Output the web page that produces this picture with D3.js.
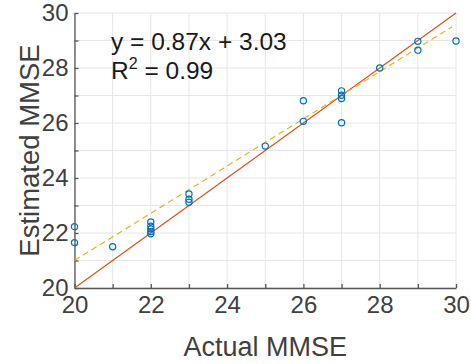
<!DOCTYPE html>
<html>
<head>
<meta charset="utf-8">
<script src="https://cdn.jsdelivr.net/npm/d3@7"></script>
<style>
  body { margin: 0; background: #fff; }
  svg { display: block; font-family: 'Liberation Sans', Arial, sans-serif; }
</style>
</head>
<body>
<div id="chart"></div>
<script>
// scatter data: actual vs estimated MMSE
const actual = [20, 20, 21, 22, 22, 22, 22, 22, 23, 23, 23, 25, 26, 26, 27, 27, 27, 27, 28, 29, 29, 30]
const estimated = [22.23, 21.65, 21.5, 22.4, 22.25, 22.15, 22.05, 21.97, 23.42, 23.23, 23.12, 25.16, 26.81, 26.06, 27.17, 27.01, 26.89, 26.01, 28.0, 28.97, 28.65, 28.98]

// fitted line as drawn, and the identity line
const fitX = [20, 29.9]
const fitY = [21.0, 29.5]
const idX = [20, 30]
const idY = [20, 30]

const ticks = [20, 21, 22, 23, 24, 25, 26, 27, 28, 29, 30]
const tickLabels = [20, 22, 24, 26, 28, 30]
const annotation = ['y = 0.87x + 3.03', 'R', '2', ' = 0.99']

const width = 471
const height = 364
const margins = { top: 13, right: 15, bottom: 76, left: 74.5 }
const plotWidth = width - margins.left - margins.right
const plotHeight = height - margins.top - margins.bottom

const svg = d3.select('#chart').append('svg')
  .attr('width', width)
  .attr('height', height)

const plot = svg.append('g')
  .attr('transform', `translate(${margins.left}, ${margins.top})`)

// scales
const x = d3.scaleLinear().domain([20, 30]).range([0, plotWidth])
const y = d3.scaleLinear().domain([20, 30]).range([plotHeight, 0])

// grid
plot.append('g').selectAll('line.gx').data(ticks).enter()
  .append('line')
  .attr('x1', d => x(d)).attr('x2', d => x(d))
  .attr('y1', 0).attr('y2', plotHeight)
  .attr('stroke', '#e6e6e6').attr('stroke-width', 1)
plot.append('g').selectAll('line.gy').data(ticks).enter()
  .append('line')
  .attr('y1', d => y(d)).attr('y2', d => y(d))
  .attr('x1', 0).attr('x2', plotWidth)
  .attr('stroke', '#e6e6e6').attr('stroke-width', 1)

// axes
const fmt = d => (tickLabels.includes(d) ? d : '')
const xAxis = plot.append('g')
  .attr('transform', `translate(0, ${plotHeight})`)
  .call(d3.axisBottom(x).tickValues(ticks).tickFormat(fmt).tickSizeInner(-4).tickSizeOuter(0).tickPadding(8))
const yAxis = plot.append('g')
  .call(d3.axisLeft(y).tickValues(ticks).tickFormat(fmt).tickSizeInner(-4).tickSizeOuter(0).tickPadding(6))

;[xAxis, yAxis].forEach(a => {
  a.select('.domain').attr('stroke', '#555').attr('stroke-width', 1.3)
  a.selectAll('.tick line').attr('stroke', '#555').attr('stroke-width', 1.3)
  a.selectAll('.tick text').attr('fill', '#404040').attr('font-size', '24px')
})

// lines
const line = d3.line().x(d => x(d[0])).y(d => y(d[1]))
plot.append('path')
  .datum(idX.map((v, i) => [v, idY[i]]))
  .attr('d', line)
  .attr('fill', 'none')
  .attr('stroke', '#D95319')
  .attr('stroke-width', 1.2)
plot.append('path')
  .datum(fitX.map((v, i) => [v, fitY[i]]))
  .attr('d', line)
  .attr('fill', 'none')
  .attr('stroke', '#EDB120')
  .attr('stroke-width', 1.2)
  .attr('stroke-dasharray', '6,4')

// points
plot.append('g').selectAll('circle').data(actual).enter()
  .append('circle')
  .attr('cx', d => x(d))
  .attr('cy', (d, i) => y(estimated[i]))
  .attr('r', 3.1)
  .attr('fill', 'none')
  .attr('stroke', '#0072BD')
  .attr('stroke-width', 1.2)

// annotation
svg.append('text')
  .attr('x', 111).attr('y', 50)
  .attr('font-size', '24.5px').attr('fill', '#1a1a1a')
  .text(annotation[0])
const r2 = svg.append('text')
  .attr('x', 111).attr('y', 79)
  .attr('font-size', '24.5px').attr('fill', '#1a1a1a')
r2.append('tspan').text(annotation[1])
r2.append('tspan').attr('dy', -10).attr('font-size', '16px').text(annotation[2])
r2.append('tspan').attr('dy', 10).text(annotation[3])

// axis labels
svg.append('text')
  .attr('x', margins.left + plotWidth / 2).attr('y', 356)
  .attr('text-anchor', 'middle')
  .attr('font-size', '27px').attr('fill', '#404040')
  .text('Actual MMSE')
svg.append('text')
  .attr('transform', `translate(39, ${margins.top + plotHeight / 2}) rotate(-90)`)
  .attr('text-anchor', 'middle')
  .attr('font-size', '27.5px').attr('fill', '#404040')
  .text('Estimated MMSE')
</script>
</body>
</html>
